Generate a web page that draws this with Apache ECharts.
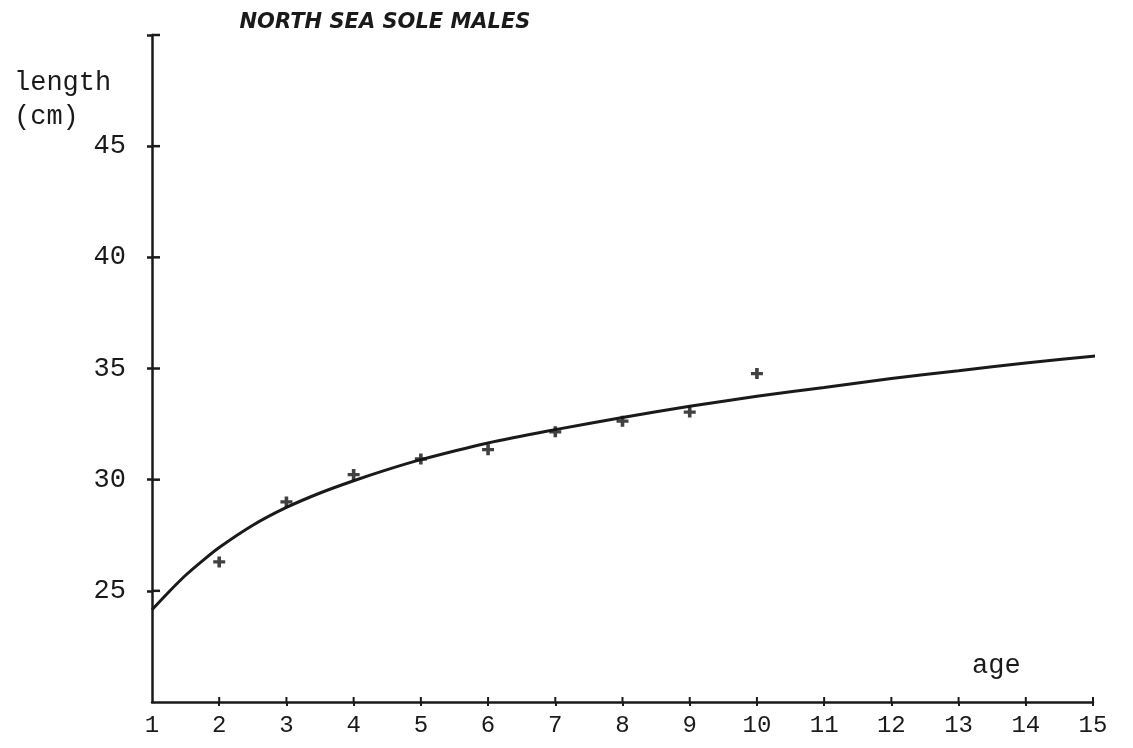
<!DOCTYPE html>
<html>
<head>
<meta charset="utf-8">
<script src="https://cdn.jsdelivr.net/npm/echarts@6/dist/echarts.min.js"></script>
<style>html,body{margin:0;padding:0;background:#fff;}#c{width:1133px;height:748px;}</style>
</head>
<body>
<div id="c"></div>
<script>
// Observed mean lengths by age
var ages = [2, 3, 4, 5, 6, 7, 8, 9, 10];
var lengths = [26.3, 29.0, 30.23, 30.93, 31.35, 32.15, 32.63, 33.04, 34.77];
// Fitted growth curve
var curveAges = [1, 1.25, 1.5, 1.75, 2, 2.5, 3, 3.5, 4, 4.5, 5, 6, 7, 8, 9, 10, 11, 12, 13, 14, 15, 15.18];
var curveLengths = [24.15, 24.95, 25.7, 26.35, 26.95, 27.95, 28.75, 29.4, 29.95, 30.45, 30.9, 31.65, 32.25, 32.8, 33.3, 33.75, 34.15, 34.55, 34.9, 35.25, 35.55, 35.6];
// Axis ticks
var xTickLabels = [1, 2, 3, 4, 5, 6, 7, 8, 9, 10, 11, 12, 13, 14, 15];
var xTickMarks = [2, 3, 4, 5, 6, 7, 8, 9, 10, 11, 12, 13, 14, 15];
var yTickLabels = [25, 30, 35, 40, 45];
var yTickMarks = [25, 30, 35, 40, 45, 50];

var ink = '#1a1a1a';
var mono = '"Liberation Mono", "DejaVu Sans Mono", monospace';
var X_MIN = 1, X_MAX = 15, Y_MIN = 20, Y_MAX = 50;

var chart = echarts.init(document.getElementById('c'), null, {renderer: 'canvas'});

function pairs(xs, ys) { return xs.map(function (x, i) { return [x, ys[i]]; }); }

var option = {
  backgroundColor: '#ffffff',
  animation: false,
  title: [
    {text: 'NORTH SEA SOLE MALES', left: 380, top: 7, textAlign: 'center',
     textStyle: {fontFamily: '"DejaVu Sans", sans-serif', fontStyle: 'italic', fontWeight: 'bold', fontSize: 21, color: ink}},
    {text: 'length\n(cm)', left: 9, top: 61,
     textStyle: {fontFamily: mono, fontWeight: 'normal', fontSize: 27, lineHeight: 34, color: ink}},
    {text: 'age', left: 967, top: 647,
     textStyle: {fontFamily: mono, fontWeight: 'normal', fontSize: 27, color: ink}}
  ],
  grid: {left: 152, right: 40, top: 35, bottom: 46, containLabel: false},
  xAxis: {type: 'value', min: X_MIN, max: X_MAX,
    axisLine: {show: true, lineStyle: {color: ink, width: 2.5}},
    axisTick: {show: true, inside: false, length: 4, customValues: xTickMarks, lineStyle: {color: ink, width: 2}},
    axisLabel: {show: true, customValues: xTickLabels, margin: 12, color: ink, fontFamily: mono, fontSize: 24},
    splitLine: {show: false}},
  yAxis: {type: 'value', min: Y_MIN, max: Y_MAX,
    axisLine: {show: true, lineStyle: {color: ink, width: 2.5}},
    axisTick: {show: true, inside: false, length: 5, customValues: yTickMarks, lineStyle: {color: ink, width: 2.5}},
    axisLabel: {show: true, customValues: yTickLabels, margin: 26, color: ink, fontFamily: mono, fontSize: 27},
    splitLine: {show: false}},
  series: [
    {type: 'line', data: pairs(curveAges, curveLengths),
     smooth: 0.3, showSymbol: false, symbol: 'none', clip: false,
     lineStyle: {color: ink, width: 3}, z: 3},
    {type: 'scatter', data: pairs(ages, lengths),
     symbol: 'path://M3.5,0H6.5V3.5H10V6.5H6.5V10H3.5V6.5H0V3.5H3.5Z', symbolSize: [12, 11],
     itemStyle: {color: '#111'}, z: 4}
  ]
};
chart.setOption(option);

// inner halves of the crossing tick marks, placed through the axes' scales
var g = [];
xTickMarks.forEach(function (v) {
  var p = chart.convertToPixel({gridIndex: 0}, [v, Y_MIN]);
  g.push({type: 'line', z: 10, shape: {x1: p[0], y1: p[1], x2: p[0], y2: p[1] - 5},
          style: {stroke: ink, lineWidth: 2}});
});
yTickMarks.forEach(function (v) {
  var p = chart.convertToPixel({gridIndex: 0}, [X_MIN, v]);
  g.push({type: 'line', z: 10, shape: {x1: p[0], y1: p[1], x2: p[0] + 8, y2: p[1]},
          style: {stroke: ink, lineWidth: 2.5}});
});
chart.setOption({graphic: g});
</script>
</body>
</html>
